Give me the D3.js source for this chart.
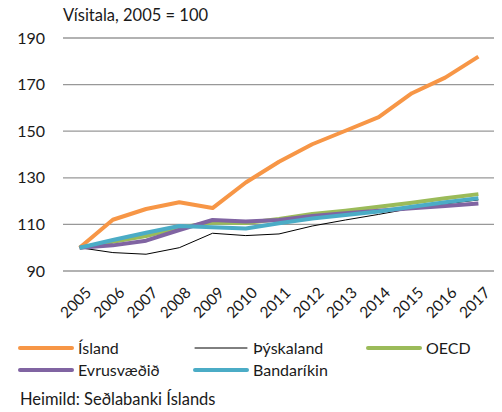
<!DOCTYPE html>
<html><head><meta charset="utf-8">
<script src="https://cdn.jsdelivr.net/npm/d3@7"></script>
<style>body{margin:0;background:#fff}svg{display:block}text{font-family:Lato,"Open Sans",sans-serif;fill:#1a1a1a}</style>
</head><body><svg id="c" width="502" height="412"></svg>
<script>
const years = ["2005","2006","2007","2008","2009","2010","2011","2012","2013","2014","2015","2016","2017"];
const island = [100,112,116.6,119.5,117,128,136.9,144.4,150.2,156,166.3,173,182];
const thyskaland = [100,97.9,97.2,100,106.2,105.2,105.9,109.3,111.9,114.3,116.9,118.8,120.5];
const oecd = [100,102.5,105,108.6,110.8,110.6,112.3,114.5,115.9,117.6,119.3,121.2,123];
const evrusvaedid = [100,101,103,107.6,111.9,111.2,111.9,113.6,114.8,115.9,116.9,117.9,119];
const bandarikin = [100,103.3,106.4,109.3,108.8,108.2,110.5,112.5,114,115.5,117.6,119.5,121.2];
const yTicks = [90,110,130,150,170,190];
const seriesNames = ["Ísland","Þýskaland","OECD","Evrusvæðið","Bandaríkin"];
const seriesData = [island, thyskaland, oecd, evrusvaedid, bandarikin];
const colors = ["#F79646","#000000","#9BBB59","#8064A2","#4BACC6"];
const widths = [4,1,4,4,4];

const svg = d3.select("#c");
const x = d3.scalePoint().domain(years).range([79.6,478.4]);
const y = d3.scaleLinear().domain([90,190]).range([271,38]);

// gridlines
svg.append("g").selectAll("line").data(yTicks).join("line")
  .attr("x1",63).attr("x2",494).attr("y1",d=>y(d)).attr("y2",d=>y(d))
  .attr("stroke","#989898").attr("stroke-width",1.3);
// y labels
svg.append("g").selectAll("text").data(yTicks).join("text")
  .attr("x",45).attr("y",d=>y(d)).attr("dy","0.35em").attr("text-anchor","end")
  .attr("font-size",16).text(d=>d);
// x labels
svg.append("g").selectAll("text").data(years).join("text")
  .attr("transform",d=>`translate(${x(d)+5},${286}) rotate(-45)`)
  .attr("text-anchor","end").attr("dy","0.7em").attr("font-size",15.5).text(d=>d);

// title
svg.append("text").attr("x",63).attr("y",21).attr("font-size",16.5).text("Vísitala, 2005 = 100");

const line = d3.line().x((d,i)=>x(years[i])).y(d=>y(d));
seriesData.forEach((s,k)=>{
  svg.append("path").datum(s).attr("d",line).attr("fill","none")
    .attr("stroke",colors[k]).attr("stroke-width",widths[k]).attr("stroke-linejoin","round");
});

// legend
const legPos = [[20,348],[195,348],[368,348],[20,370],[195,370]];
seriesNames.forEach((n,k)=>{
  const [lx,ly]=legPos[k];
  svg.append("line").attr("x1",lx).attr("x2",lx+52).attr("y1",ly).attr("y2",ly)
    .attr("stroke",colors[k]).attr("stroke-width",widths[k]).attr("stroke-linecap","round");
  svg.append("text").attr("x",lx+58).attr("y",ly).attr("dy","0.35em").attr("font-size",16).text(n);
});
svg.append("text").attr("x",20).attr("y",399).attr("dy","0.35em").attr("font-size",16.5).text("Heimild: Seðlabanki Íslands");
</script></body></html>
